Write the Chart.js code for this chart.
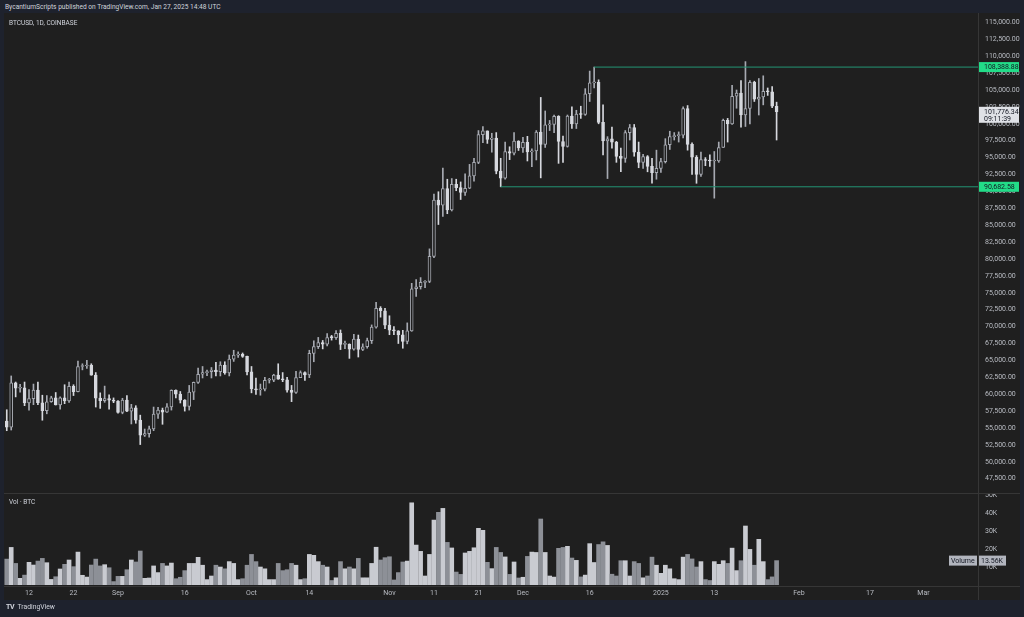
<!DOCTYPE html>
<html>
<head>
<meta charset="utf-8">
<script src="https://cdn.jsdelivr.net/npm/chart.js@4.4.1/dist/chart.umd.min.js"></script>
<style>
  html, body { margin: 0; padding: 0; width: 1024px; height: 617px; overflow: hidden; background: #1e222d; font-family: Roboto, sans-serif; }
  #header { position: absolute; left: 5px; top: 3px; font-size: 6.6px; color: #d1d4dc; white-space: nowrap; }
  #pane { position: absolute; left: 4px; top: 13px; width: 1016px; height: 587px; background: #1f1f1f; }
  #pane canvas { position: absolute; left: 0; }
  #price { top: 0; }
  #vol { top: 480px; }
  .hline { position: absolute; left: 0; width: 1016px; height: 1px; background: #363636; }
  .vline { position: absolute; left: 974px; top: 0; width: 1px; height: 587px; background: #363636; }
  .lbl { position: absolute; font-size: 6.5px; color: #d1d4dc; white-space: nowrap; }
  #footer { position: absolute; left: 6px; top: 603px; font-size: 6.8px; color: #d1d4dc; white-space: nowrap; }
  #footer b { font-size: 7px; margin-right: 2px; letter-spacing: -0.5px; }
</style>
</head>
<body>
<div id="header">BycantiumScripts published on TradingView.com, Jan 27, 2025 14:48 UTC</div>
<div id="pane">
  <canvas id="price" width="1016" height="480"></canvas>
  <canvas id="vol" width="1016" height="107"></canvas>
  <div class="hline" style="top:480px"></div>
  <div class="hline" style="top:573px"></div>
  <div class="vline"></div>
  <div class="lbl" style="left:5px; top:6px">BTCUSD, 1D, COINBASE</div>
  <div class="lbl" style="left:5px; top:485px">Vol · BTC</div>
</div>
<div id="footer"><b>TV</b> TradingView</div>
<script>
// day 0 = Aug 12, 2024; first candle is Aug 7, 2024, last is Jan 27, 2025
const firstDay = -5;

const opens = [
  56030, 55120, 61700, 60880, 60940, 58710, 59350, 60600, 58740, 57560, 58880, 59460, 58430, 59480, 59020, 61170, 60380, 64100, 64170, 64260, 62830, 59420, 59030, 59370, 59120,
  58970, 57300, 59130, 57480, 57970, 56160, 53950, 54160, 54870, 57050, 57650, 57340, 58130, 60570, 60000, 59130, 58210, 60310, 61760, 62950, 63200, 63350, 63580, 63330, 64300, 63150, 65180, 65790, 65890, 65600,
  63300, 60800, 60650, 60750, 62070, 62080, 62820, 62220, 62130, 60580, 60270, 62450, 63200, 62850, 66050, 67040, 67620, 67390, 68390, 68360, 69000, 67370, 67380, 66650, 68170, 66630, 67020, 67930, 69920, 72720, 72350,
  70230, 69480, 69360, 68780, 67800, 69370, 75600, 75900, 76550, 76700, 80400, 88700, 87950, 90400, 87250, 91060, 90560, 89850, 90460, 92300, 94300, 98400, 98950, 97700, 97900, 93000, 91960, 95900, 95650, 97460,
  96440, 97260, 95850, 96000, 98760, 96950, 99840, 99900, 101120, 97380, 96650, 101130, 100000, 101450, 101370, 104450, 106050, 106140, 100200, 97460, 97760, 97280, 95180, 94880, 98700, 99430, 95800, 94300, 95150, 93700, 92780,
  93400, 94400, 96900, 98100, 98240, 98330, 102250, 96950, 95050, 92500, 94700, 94570, 94500, 94520, 96500, 100500, 99990, 104080, 104560, 101330, 102260, 106140, 103650, 103960, 104820, 104740, 102600
];
const highs = [
  57700, 62700, 61800, 61450, 61800, 60700, 61500, 61800, 59850, 59800, 59700, 60250, 59600, 61400, 61800, 61400, 64900, 64500, 65000, 64500, 63200, 60200, 61200, 59900, 59450,
  59050, 59400, 59800, 58500, 58300, 56900, 54850, 55300, 58100, 58050, 57950, 58600, 60650, 60650, 60400, 59200, 61300, 61800, 63850, 64100, 63550, 63950, 64700, 64800, 64800, 65800, 66500, 66250, 66100, 65650,
  64100, 62400, 61500, 62500, 62350, 62950, 64500, 63200, 62500, 61300, 63400, 63450, 63300, 66500, 67900, 68400, 67950, 68950, 68700, 69400, 69500, 67850, 67450, 68850, 68750, 67450, 68300, 70250, 73600, 72950, 72700,
  71600, 70000, 69400, 69450, 70550, 76400, 76950, 77250, 76800, 81500, 89600, 89950, 93450, 91800, 91900, 91800, 91400, 92600, 94000, 94900, 99000, 99600, 98950, 98600, 98700, 94900, 97300, 96600, 98700, 97500,
  98000, 98150, 96300, 99000, 103900, 101900, 100500, 101300, 101200, 98200, 101300, 102500, 102000, 102600, 105200, 107800, 108388.88, 106500, 102800, 98100, 99500, 97400, 96400, 99000, 99900, 99900, 97300, 95500, 95300, 94900, 96100,
  94900, 97800, 98900, 98700, 98800, 102500, 102700, 97200, 95300, 95800, 95000, 95400, 95900, 97300, 100700, 100800, 105700, 105000, 106400, 109200, 106400, 106300, 106700, 107100, 105300, 105500, 103200
];
const lows = [
  54600, 54700, 59600, 60300, 58300, 57650, 58450, 58450, 56150, 57100, 58800, 58400, 57800, 58600, 58800, 59800, 60350, 63600, 63800, 62800, 58100, 57900, 58800, 57800, 58750,
  57200, 57100, 57400, 55600, 55700, 52550, 53750, 53650, 54600, 56400, 55550, 57300, 57650, 59450, 58700, 57500, 57650, 59200, 61600, 62400, 62750, 62400, 62700, 62700, 62950, 62700, 64850, 65450, 65450, 62850,
  60200, 59950, 59850, 60500, 61650, 61850, 62200, 61850, 60300, 58900, 60100, 62450, 62050, 62450, 64800, 66750, 66700, 67150, 68000, 68100, 66600, 66750, 65300, 66500, 65500, 66450, 66800, 67500, 69750, 71400, 69700,
  68800, 68800, 67500, 66800, 67450, 69300, 74450, 75550, 75750, 76500, 80200, 85100, 86300, 86700, 87100, 90100, 88800, 89400, 90400, 91500, 94100, 97200, 97100, 95800, 92600, 90682.58, 91800, 94700, 95400, 96050,
  95750, 94500, 93650, 94650, 92000, 96500, 99000, 98700, 94150, 94300, 96550, 99300, 99300, 100800, 101250, 103300, 105300, 100000, 95400, 91900, 96400, 94300, 92900, 94300, 97600, 95200, 93500, 93400, 92900, 91200, 91800,
  92800, 94200, 96200, 97600, 97300, 97900, 96100, 92500, 91200, 92200, 93800, 93700, 89000, 94300, 96500, 97300, 99900, 102300, 99500, 99600, 100000, 103300, 101300, 102800, 104200, 102400, 97600
];
const closes = [
  55120, 61700, 60880, 60940, 58710, 59350, 60600, 58740, 57560, 58880, 59460, 58430, 59480, 59020, 61170, 60380, 64100, 64170, 64260, 62830, 59420, 59030, 59370, 59120, 58970,
  57300, 59130, 57480, 57970, 56160, 53950, 54160, 54870, 57050, 57650, 57340, 58130, 60570, 60000, 59130, 58210, 60310, 61760, 62950, 63200, 63350, 63580, 63330, 64300, 63150, 65180, 65790, 65890, 65600, 63300,
  60800, 60650, 60750, 62070, 62080, 62820, 62220, 62130, 60580, 60270, 62450, 63200, 62850, 66050, 67040, 67620, 67390, 68390, 68360, 69000, 67370, 67380, 66650, 68170, 66630, 67020, 67930, 69920, 72720, 72350, 70230,
  69480, 69360, 68780, 67800, 69370, 75600, 75900, 76550, 76700, 80400, 88700, 87950, 90400, 87250, 91060, 90560, 89850, 90460, 92300, 94300, 98400, 98950, 97700, 97900, 93000, 91960, 95900, 95650, 97460, 96440,
  97260, 95850, 96000, 98760, 96950, 99840, 99900, 101120, 97380, 96650, 101130, 100000, 101450, 101370, 104450, 106050, 106140, 100200, 97460, 97760, 97280, 95180, 94880, 98700, 99430, 95800, 94300, 95150, 93700, 92780, 93400,
  94400, 96900, 98100, 98240, 98330, 102250, 96950, 95050, 92500, 94700, 94570, 94500, 94520, 96500, 100500, 99990, 104080, 104560, 101330, 102260, 106140, 103650, 103960, 104820, 104740, 102600, 101776.34
];
// volume in thousands of BTC
const volumes = [
  14.4, 20.9, 12.0, 3.7, 5.5, 12.6, 11.1, 13.3, 14.8, 12.4, 3.1, 4.6, 8.9, 11.5, 13.9, 10.2, 18.3, 5.4, 4.4, 11.1, 14.4, 10.6, 11.3, 9.6, 1.9,
  4.8, 4.8, 8.5, 13.9, 12.8, 18.9, 3.7, 3.9, 10.6, 6.9, 12.0, 10.6, 12.2, 3.5, 4.3, 8.0, 12.0, 12.0, 15.4, 11.0, 3.0, 5.0, 11.0, 10.0, 9.0, 13.0, 12.0, 3.0, 3.5, 11.0,
  17.0, 13.0, 10.0, 9.0, 3.0, 3.0, 12.0, 8.0, 8.5, 12.0, 11.0, 3.0, 3.5, 17.0, 16.5, 13.0, 11.0, 10.0, 2.5, 4.0, 13.0, 9.0, 10.0, 9.0, 14.8, 4.0, 4.0, 12.0, 21.0, 13.9, 15.2,
  15.7, 2.8, 6.9, 12.8, 13.3, 45.7, 22.2, 18.7, 5.0, 17.0, 36.1, 40.4, 42.6, 23.7, 20.6, 7.2, 5.9, 17.8, 18.7, 20.7, 31.5, 30.4, 12.6, 9.1, 20.9, 18.1, 15.6, 5.9, 12.8, 3.9,
  4.3, 15.9, 18.3, 18.1, 36.7, 18.1, 5.0, 4.4, 20.4, 20.9, 21.5, 15.0, 13.7, 4.5, 5.5, 23.0, 12.5, 22.5, 24.0, 22.0, 6.0, 5.0, 13.5, 13.5, 5.0, 13.0, 12.0, 4.0, 5.0, 15.5, 11.0,
  6.5, 11.0, 9.0, 3.5, 3.0, 15.5, 17.0, 14.5, 10.0, 13.0, 3.0, 2.5, 13.0, 11.5, 13.5, 12.0, 20.5, 8.0, 13.5, 32.8, 19.8, 11.0, 25.4, 13.0, 3.0, 4.5, 13.56
];

const priceTicks = [47500, 50000, 52500, 55000, 57500, 60000, 62500, 65000, 67500, 70000, 72500, 75000, 77500, 80000,
  82500, 85000, 87500, 90000, 92500, 95000, 97500, 100000, 102500, 105000, 107500, 110000, 112500, 115000];
const volTicks = [10, 20, 30, 40, 50];
const dateTickDays = [0, 10, 20, 35, 50, 63, 81, 91, 101, 111, 126, 142, 154, 173, 189, 201];
const dateTickLabels = ['12', '22', 'Sep', '16', 'Oct', '14', 'Nov', '11', '21', 'Dec', '16', '2025', '13', 'Feb', '17', 'Mar'];

// range drawn from the Nov 26 low and the Dec 17 high
const rangeHigh = 108388.88, rangeHighDay = 127;
const rangeLow = 90682.58, rangeLowDay = 106;
const countdown = '09:11:39';

const X_MIN = -5.62, X_MAX = 213.26;
const BG = '#1f1f1f';
const UP = '#a6a9b1';
const DOWN = '#d6d8de';
const LEVEL = '#239474';
const LEVEL_LABEL = '#22dc88';
const TICK = '#b8bbc2';

Chart.defaults.font.family = 'Roboto, sans-serif';
Chart.defaults.font.size = 7;
Chart.defaults.color = TICK;

const days = closes.map((c, i) => firstDay + i);
const isUp = closes.map((c, i) => c >= opens[i]);
const bodies = days.map((d, i) => ({ x: d, y: [opens[i], closes[i]] }));
const wicks = days.map((d, i) => ({ x: d, y: [lows[i], highs[i]] }));
const volBars = days.map((d, i) => ({ x: d, y: volumes[i] }));

function fmtPrice(v) {
  return v.toLocaleString('en-US', { minimumFractionDigits: 2, maximumFractionDigits: 2 });
}

// the right-hand axes should not push the plot area in for their end labels
function fixRightAxis(s) {
  s.width = 42;
  s.paddingTop = 0;
  s.paddingBottom = 0;
}

const priceLabels = {
  id: 'priceLabels',
  afterDraw(chart) {
    const { ctx, chartArea } = chart;
    const y = chart.scales.y;
    const x0 = chartArea.right + 1;
    ctx.save();
    ctx.font = '7px Roboto, sans-serif';
    ctx.textBaseline = 'middle';
    [rangeHigh, rangeLow].forEach(v => {
      const py = y.getPixelForValue(v);
      ctx.fillStyle = LEVEL_LABEL;
      ctx.fillRect(x0, py - 5, 40, 10);
      ctx.fillStyle = '#131722';
      ctx.fillText(fmtPrice(v), chartArea.right + 6, py + 0.5);
    });
    const last = closes[closes.length - 1];
    const py = y.getPixelForValue(last);
    ctx.fillStyle = '#dfe1e6';
    ctx.fillRect(x0, py - 5, 40, 16);
    ctx.fillStyle = '#131722';
    ctx.fillText(fmtPrice(last), chartArea.right + 6, py);
    ctx.fillText(countdown, chartArea.right + 6, py + 7);
    ctx.restore();
  }
};

const volLabel = {
  id: 'volLabel',
  afterDraw(chart) {
    const { ctx, chartArea } = chart;
    const py = chart.scales.y.getPixelForValue(volumes[volumes.length - 1]);
    ctx.save();
    ctx.font = '7px Roboto, sans-serif';
    ctx.textBaseline = 'middle';
    ctx.fillStyle = '#b2b5be';
    ctx.fillRect(chartArea.right - 29, py - 5, 28, 10);
    ctx.fillRect(chartArea.right + 1, py - 5, 27, 10);
    ctx.fillStyle = '#131722';
    ctx.fillText('Volume', chartArea.right - 27, py + 0.5);
    ctx.fillText(volumes[volumes.length - 1].toFixed(2) + 'K', chartArea.right + 3, py + 0.5);
    ctx.restore();
  }
};

new Chart(document.getElementById('price'), {
  type: 'bar',
  data: {
    datasets: [
      {
        data: [{ x: rangeHighDay, y: rangeHigh }, { x: X_MAX, y: rangeHigh }],
        type: 'line', order: -1, borderColor: LEVEL, borderWidth: 1, pointRadius: 0, pointHoverRadius: 0
      },
      {
        data: [{ x: rangeLowDay, y: rangeLow }, { x: X_MAX, y: rangeLow }],
        type: 'line', order: -1, borderColor: LEVEL, borderWidth: 1, pointRadius: 0, pointHoverRadius: 0
      },
      {
        data: bodies, order: 0, grouped: false, barThickness: 3, minBarLength: 1,
        backgroundColor: isUp.map(u => u ? BG : DOWN),
        borderColor: isUp.map(u => u ? UP : DOWN),
        borderWidth: 1, borderSkipped: false
      },
      {
        data: wicks, order: 1, grouped: false, barThickness: 1,
        backgroundColor: isUp.map(u => u ? UP : DOWN), borderWidth: 0
      }
    ]
  },
  options: {
    responsive: false,
    animation: false,
    layout: { padding: 0, autoPadding: false },
    plugins: { legend: { display: false }, tooltip: { enabled: false } },
    scales: {
      x: { type: 'linear', min: X_MIN, max: X_MAX, offset: false, display: false },
      y: {
        position: 'right', min: 45385, max: 116390,
        grid: { display: false, drawTicks: false }, border: { display: false },
        afterBuildTicks: s => { s.ticks = priceTicks.map(v => ({ value: v })); },
        afterFit: fixRightAxis,
        ticks: { padding: 7, color: TICK, callback: v => fmtPrice(v) }
      }
    }
  },
  plugins: [priceLabels]
});

new Chart(document.getElementById('vol'), {
  type: 'bar',
  data: {
    datasets: [{
      data: volBars, grouped: false, barThickness: 4, borderWidth: 0,
      backgroundColor: isUp.map(u => u ? '#c9cbd1' : '#8d9097')
    }]
  },
  options: {
    responsive: false,
    animation: false,
    layout: { padding: { top: 1 }, autoPadding: false },
    plugins: { legend: { display: false }, tooltip: { enabled: false } },
    scales: {
      x: {
        type: 'linear', min: X_MIN, max: X_MAX, offset: false,
        grid: { display: false, drawTicks: false }, border: { display: false },
        afterBuildTicks: s => { s.ticks = dateTickDays.map(v => ({ value: v })); },
        afterFit: s => { s.height = 15; s.paddingLeft = 0; s.paddingRight = 0; },
        ticks: { autoSkip: false, maxRotation: 0, padding: 4, color: TICK, callback: (v, i) => dateTickLabels[i] }
      },
      y: {
        position: 'right', min: 0, max: 50.6,
        grid: { display: false, drawTicks: false }, border: { display: false },
        afterBuildTicks: s => { s.ticks = volTicks.map(v => ({ value: v })); },
        afterFit: fixRightAxis,
        ticks: { padding: 7, color: TICK, callback: v => v + 'K' }
      }
    }
  },
  plugins: [volLabel]
});
</script>
</body>
</html>
